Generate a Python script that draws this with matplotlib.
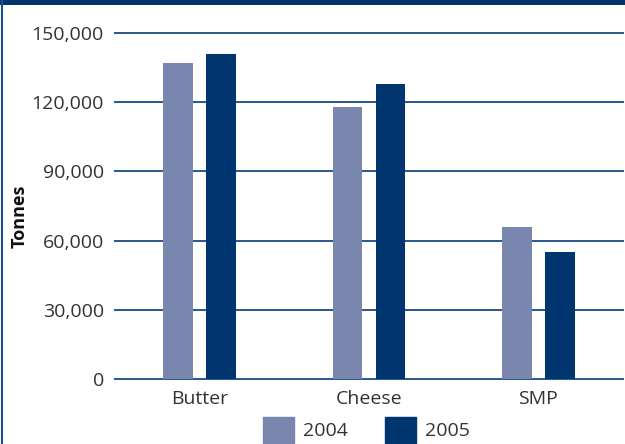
import matplotlib
matplotlib.use("Agg")
import matplotlib.pyplot as plt
from matplotlib.patches import Rectangle, Patch
from matplotlib.lines import Line2D
from matplotlib.ticker import FuncFormatter
import numpy as np

products = ["Butter", "Cheese", "SMP"]
years = ["2004", "2005"]
tonnes_2004 = [137000, 118000, 66000]
tonnes_2005 = [141000, 128000, 55000]
y_ticks = [0, 30000, 60000, 90000, 120000, 150000]

light_blue = "#7986AE"
navy = "#003570"
text_col = "#333333"

plt.rcParams["font.family"] = ["Open Sans", "DejaVu Sans"]

W, H = 625, 444
fig = plt.figure(figsize=(W / 100, H / 100), dpi=100)
ax = fig.add_axes([115 / W, 1 - 379 / H, (623 - 115) / W, (379 - 33) / H])

x = np.arange(len(products))
width = 0.177
offset = 0.127
ax.bar(x - offset, tonnes_2004, width, color=light_blue, zorder=3)
ax.bar(x + offset, tonnes_2005, width, color=navy, zorder=3)

ax.set_xlim(-0.5, len(products) - 0.5)
ax.set_ylim(0, 150000)
ax.set_yticks(y_ticks)
ax.yaxis.set_major_formatter(FuncFormatter(lambda v, p: f"{int(v):,}"))
ax.set_xticks(x)
ax.set_xticklabels(products)

for v in y_ticks:
    ax.axhline(v, color="#2A5590", lw=1.4, zorder=1, clip_on=False)

for s in ax.spines.values():
    s.set_visible(False)

ax.tick_params(axis="both", length=0, labelsize=14, colors=text_col)
ax.tick_params(axis="y", pad=8)
ax.tick_params(axis="x", pad=8)
ax.set_ylabel("Tonnes", fontsize=13, fontweight="bold", color="#111111")
ax.yaxis.set_label_coords(-0.17, 0.47)

handles = [Patch(color=light_blue, label=years[0]), Patch(color=navy, label=years[1])]
fig.legend(handles=handles, loc="upper left", bbox_to_anchor=(263 / W, 1 - 417 / H),
           ncol=2, frameon=False, fontsize=14, labelcolor=text_col,
           handlelength=1.6, handleheight=1.65, handletextpad=0.45,
           columnspacing=1.9, borderpad=0, borderaxespad=0)

# header band and left border
fig.add_artist(Rectangle((0, 1 - 5 / H), 1, 5 / H, transform=fig.transFigure,
                         color=navy, lw=0))
fig.add_artist(Line2D([2 / W, 2 / W], [0, 1], transform=fig.transFigure,
                      color="#1D4F8E", lw=1.5))

fig.savefig("out.png", dpi=100)
